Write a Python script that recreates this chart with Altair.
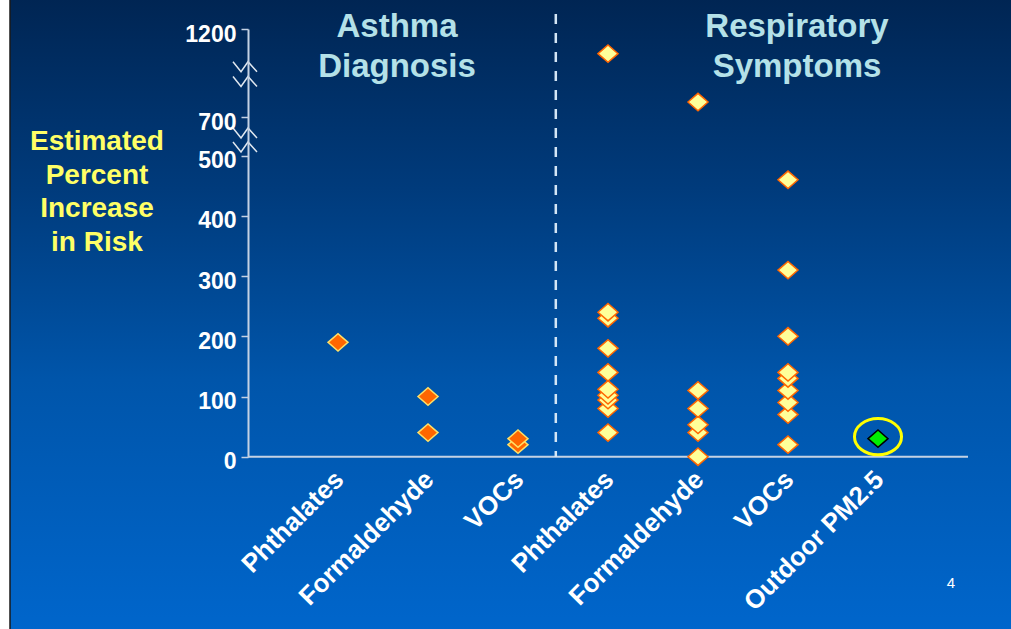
import altair as alt
import pandas as pd

# ---- data ----
categories = ["Phthalates", "Formaldehyde", "VOCs", "Phthalates", "Formaldehyde", "VOCs", "Outdoor PM2.5"]
asthma_phthalates = [190]
asthma_formaldehyde = [100, 40]
asthma_vocs = [30, 20]
resp_phthalates = [1060, 240, 230, 180, 140, 112, 102, 94, 80, 40]
resp_formaldehyde = [785, 110, 80, 53, 40, 0]
resp_vocs = [460, 310, 200, 140, 130, 110, 90, 70, 20]
outdoor_pm25 = [30]
y_ticks = [0, 100, 200, 300, 400, 500, 700, 1200]
panel_titles = [["Asthma", "Diagnosis"], ["Respiratory", "Symptoms"]]
y_title = ["Estimated", "Percent", "Increase", " in Risk"]

series = [
    (1, "asthma", asthma_phthalates),
    (2, "asthma", asthma_formaldehyde),
    (3, "asthma", asthma_vocs),
    (4, "resp", resp_phthalates),
    (5, "resp", resp_formaldehyde),
    (6, "resp", resp_vocs),
    (7, "pm", outdoor_pm25),
]
rows = []
for pos, grp, vals in series:
    for v in sorted(vals):
        rows.append({"pos": pos, "group": grp, "value": v})
df = pd.DataFrame(rows)

W, H = 720, 444
FONT = "Liberation Sans"

xscale = alt.Scale(domain=[0, 8], nice=False, zero=False)
yscale = alt.Scale(domain=[0, 500, 700, 1200], range=[443.7, 142.7, 104, 16], nice=False, zero=False)

label_arr = "[''," + ",".join("'" + c + "'" for c in categories) + "]"

xaxis = alt.Axis(values=list(range(1, 8)), labelExpr=label_arr + "[datum.value]",
                 labelAngle=315, labelAlign="right", labelBaseline="middle",
                 labelFont=FONT, labelFontSize=26, labelFontWeight="bold", labelColor="white",
                 labelPadding=18, labelOffset=1, labelLimit=0, ticks=False, domain=False, grid=False,
                 title=None, labelOverlap=False, zindex=1)
yaxis = alt.Axis(values=y_ticks, format="d", labelFont=FONT, labelFontSize=23, labelFontWeight="bold",
                 labelColor="white", labelPadding=5, labelOffset=5, tickSize=7, tickColor="#C4D2E4",
                 tickWidth=1.5, domainColor="#C4D2E4", domainWidth=2, grid=False, title=None,
                 labelOverlap=False, zindex=1)

one = alt.Data(values=[{"a": 1}])

bg = alt.Chart(one).mark_rect(
    color=alt.LinearGradient(gradient="linear", x1=0, x2=0, y1=0, y2=1,
                             stops=[alt.GradientStop(color="#002553", offset=0),
                                    alt.GradientStop(color="#003B7C", offset=0.3),
                                    alt.GradientStop(color="#0055AA", offset=0.6),
                                    alt.GradientStop(color="#0066CC", offset=1)]),
    stroke="#1A1A1A", strokeWidth=1.5
).encode(x=alt.value(-238), x2=alt.value(770), y=alt.value(-14), y2=alt.value(620))

xline = alt.Chart(one).mark_rule(color="#C4D2E4", strokeWidth=2).encode(
    x=alt.datum(0, scale=xscale), x2=alt.datum(8), y=alt.datum(0, scale=yscale))

sep = alt.Chart(one).mark_rule(color="#D4E6F6", strokeWidth=2.5, strokeDash=[10, 9]).encode(
    x=alt.datum(3.42, scale=xscale), y=alt.value(1), y2=alt.value(H))

# axis break zigzags (pixel geometry, decoration only)
brk_rows = []
for k, cy in enumerate([53.7, 68.5, 120, 134]):
    for dx, dy in [(-15, -5), (-7, 5), (0, -5), (9, 5)]:
        brk_rows.append({"id": k, "px": dx, "py": cy + dy, "o": dx})
brk = alt.Chart(pd.DataFrame(brk_rows)).mark_line(color="#E0E8F0", strokeWidth=1.5).encode(
    x=alt.X("px:Q", scale=None), y=alt.Y("py:Q", scale=None), detail="id:N", order="o:Q")

DIAMOND = "M-1,0L0,-0.87L1,0L0,0.87Z"
pts = alt.Chart(df).mark_point(shape=DIAMOND, size=400, filled=True, opacity=1, strokeWidth=1.5).encode(
    x=alt.X("pos:Q", scale=xscale, axis=xaxis),
    y=alt.Y("value:Q", scale=yscale, axis=yaxis),
    fill=alt.Fill("group:N", scale=alt.Scale(domain=["asthma", "resp", "pm"],
                                             range=["#FF6600", "#FFFF99", "#00EE00"]), legend=None),
    stroke=alt.Stroke("group:N", scale=alt.Scale(domain=["asthma", "resp", "pm"],
                                                 range=["#FFE066", "#FF6600", "#000000"]), legend=None),
)

ELLIPSE = "M-1.3,0A1.3,1,0,1,0,1.3,0A1.3,1,0,1,0,-1.3,0Z"
ring = alt.Chart(df[df.group == "pm"]).mark_point(shape=ELLIPSE, size=1310, filled=False,
                                                  stroke="#FFFF00", strokeWidth=3, opacity=1).encode(
    x=alt.X("pos:Q", scale=xscale), y=alt.Y("value:Q", scale=yscale), yOffset=alt.value(-2))

t1 = alt.Chart(one).mark_text(text=panel_titles[0], font=FONT, fontSize=33, fontWeight="bold",
                              color="#B4E1E8", lineHeight=40, align="center", baseline="middle").encode(
    x=alt.value(149), y=alt.value(14))
t2 = alt.Chart(one).mark_text(text=panel_titles[1], font=FONT, fontSize=33, fontWeight="bold",
                              color="#B4E1E8", lineHeight=40, align="center", baseline="middle").encode(
    x=alt.value(549), y=alt.value(14))
yt = alt.Chart(one).mark_text(text=y_title, font=FONT, fontSize=28, fontWeight="bold",
                              color="#FFFF66", lineHeight=33.7, align="center", baseline="middle").encode(
    x=alt.value(-151), y=alt.value(129))
pg = alt.Chart(one).mark_text(text="4", font=FONT, fontSize=15, color="white",
                              align="center", baseline="middle").encode(x=alt.value(703), y=alt.value(570))

chart = alt.layer(bg, xline, sep, brk, pts, ring, t1, t2, yt, pg).properties(
    width=W, height=H,
    autosize=alt.AutoSizeParams(type="none"),
    padding={"left": 248, "top": 13, "right": 43, "bottom": 172},
).configure_view(stroke=None).configure(background="white")

chart.save("out.html", embed_options={"renderer": "svg", "actions": False})
